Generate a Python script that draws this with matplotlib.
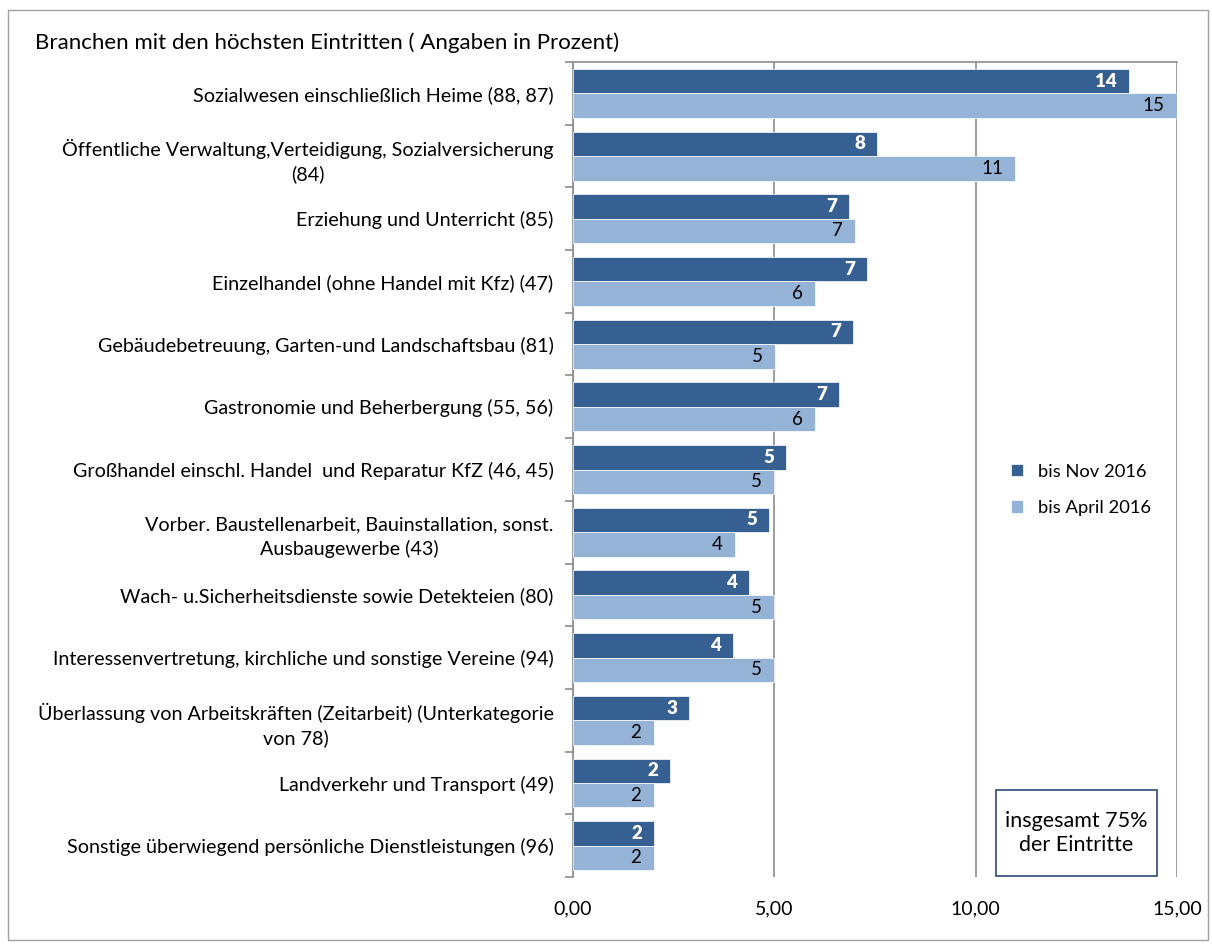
import numpy as np
import matplotlib.pyplot as plt
from matplotlib.patches import Rectangle

kategorien = [
    "Sozialwesen einschließlich Heime (88, 87)",
    "Öffentliche Verwaltung,Verteidigung, Sozialversicherung\n(84)",
    "Erziehung und Unterricht (85)",
    "Einzelhandel (ohne Handel mit Kfz) (47)",
    "Gebäudebetreuung, Garten-und Landschaftsbau (81)",
    "Gastronomie und Beherbergung (55, 56)",
    "Großhandel einschl. Handel  und Reparatur KfZ (46, 45)",
    "Vorber. Baustellenarbeit, Bauinstallation, sonst.\nAusbaugewerbe (43)",
    "Wach- u.Sicherheitsdienste sowie Detekteien (80)",
    "Interessenvertretung, kirchliche und sonstige Vereine (94)",
    "Überlassung von Arbeitskräften (Zeitarbeit) (Unterkategorie\nvon 78)",
    "Landverkehr und Transport (49)",
    "Sonstige überwiegend persönliche Dienstleistungen (96)",
]
nov_2016 = [13.8, 7.55, 6.85, 7.3, 6.95, 6.6, 5.3, 4.87, 4.37, 3.97, 2.88, 2.41, 2.01]
april_2016 = [15.0, 10.98, 7.0, 6.0, 5.02, 6.0, 5.0, 4.02, 5.0, 5.0, 2.0, 2.0, 2.0]

dunkel = '#376092'
hell = '#95B3D7'

plt.rcParams['font.family'] = ['Lato', 'DejaVu Sans']

fig = plt.figure(figsize=(12.12, 9.47), dpi=100)
ax = fig.add_axes([0.4728, 0.0739, 0.4983, 0.8606])

n = len(kategorien)
y = np.arange(n)
h = 0.39
b1 = ax.barh(y - h/2, nov_2016, height=h, color=dunkel, edgecolor='white', linewidth=0.5, label='bis Nov 2016', zorder=3)
b2 = ax.barh(y + h/2, april_2016, height=h, color=hell, edgecolor='white', linewidth=0.5, label='bis April 2016', zorder=3)

# Werte innen am Balkenende
for rect, v in zip(b1, nov_2016):
    ax.text(v - 0.3, rect.get_y() + rect.get_height()/2, str(int(round(v))), ha='right', va='center',
            color='white', fontweight='heavy', fontsize=13.5, zorder=4)
for rect, v in zip(b2, april_2016):
    ax.text(v - 0.3, rect.get_y() + rect.get_height()/2, str(int(round(v))), ha='right', va='center',
            color='black', fontsize=13.5, zorder=4)

ax.set_xlim(0, 15)
ax.set_ylim(n - 0.5, -0.5)
ax.set_xticks([0, 5, 10, 15])
ax.set_xticklabels(['0,00', '5,00', '10,00', '15,00'], fontsize=14)
ax.xaxis.grid(True, color='#8c8c8c', linewidth=1.2, zorder=0)
ax.tick_params(axis='x', length=0, pad=17)

ax.set_yticks(np.arange(n + 1) - 0.5, minor=False)
ax.set_yticklabels([])
ax.set_yticks(y, minor=True)
ax.set_yticklabels(kategorien, minor=True, fontsize=14.2, multialignment='center', linespacing=1.45)
ax.tick_params(axis='y', which='minor', length=0, pad=14)
ax.tick_params(axis='y', which='major', length=6, color='#8c8c8c', width=1.2)

for s in ['right', 'bottom']:
    ax.spines[s].set_visible(False)
ax.spines['left'].set_color('#8c8c8c')
ax.spines['left'].set_linewidth(1.2)
ax.spines['top'].set_color('#8c8c8c')
ax.spines['top'].set_linewidth(1.2)

fig.text(35/1212, 1 - 43/947, 'Branchen mit den höchsten Eintritten ( Angaben in Prozent)',
         fontsize=16, ha='left', va='center')

ax.legend(loc='upper left', bbox_to_anchor=(994/1212, 1 - 447/947), bbox_transform=fig.transFigure,
          frameon=False, fontsize=13.2, handlelength=0.7, handleheight=0.7, labelspacing=1.1, handletextpad=0.8)

fig.text(1076/1212, 1 - 833/947, 'insgesamt 75%\nder Eintritte', fontsize=15.5, ha='center', va='center',
         multialignment='center', linespacing=1.3)
fig.add_artist(Rectangle((996/1212, 1 - 876/947), 161/1212, 86/947, transform=fig.transFigure,
                         fill=False, edgecolor='#2c4a75', linewidth=1.2))

fig.add_artist(Rectangle((8/1212, 1 - 940/947), 1200/1212, 930/947, transform=fig.transFigure,
                         fill=False, edgecolor='#a0a0a0', linewidth=1))

plt.savefig('out.png', dpi=100)
